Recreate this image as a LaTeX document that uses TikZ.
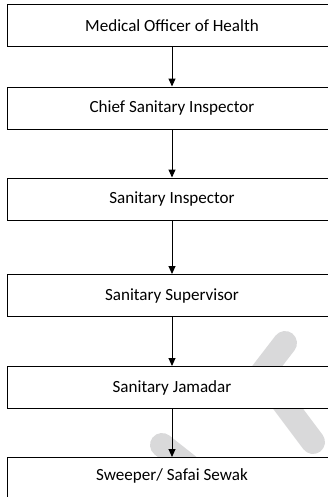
\documentclass[tikz,border=0pt]{standalone}
\usepackage{fontspec}
\setmainfont{Carlito}
\usetikzlibrary{arrows.meta}
\definecolor{wmgray}{RGB}{217,217,218}
\begin{document}
\begin{tikzpicture}[x=0.75pt,y=-0.75pt,
  orgbox/.style={draw=black,line width=0.75pt,fill=white,minimum width=247.5pt,minimum height=31.5pt,inner sep=0pt,font=\fontsize{12.8}{14}\selectfont},
  link/.style={line width=0.75pt,-{Triangle[length=6pt,width=5.25pt]}},
  wm/.style={wmgray,line width=18pt,line cap=round}]
\useasboundingbox (0,0) rectangle (328,497);
\clip (0,0) rectangle (328,497);
% watermark strokes
\draw[wm] (285,343) -- (245,395);
\draw[wm] (280,398) -- (313,442);
\draw[wm] (162,445) -- (200,475);
% boxes
\node[orgbox] (b1) at (172,25.5) {Medical Officer of Health};
\node[orgbox] (b2) at (172,108) {Chief Sanitary Inspector};
\node[orgbox] (b3) at (172,199) {Sanitary Inspector};
\node[orgbox] (b4) at (172,295.5) {Sanitary Supervisor};
\node[orgbox] (b5) at (172,387.5) {Sanitary Jamadar};
\node[orgbox] (b6) at (172,478.5) {};
\node[font=\fontsize{12.8}{14}\selectfont] (t6) at (172,475.5) {Sweeper/ Safai Sewak};
% connectors
\draw[link] (b1.south) -- (b2.north);
\draw[link] (b2.south) -- (b3.north);
\draw[link] (b3.south) -- (b4.north);
\draw[link] (b4.south) -- (b5.north);
\draw[link] (b5.south) -- (b6.north);
\end{tikzpicture}
\end{document}
